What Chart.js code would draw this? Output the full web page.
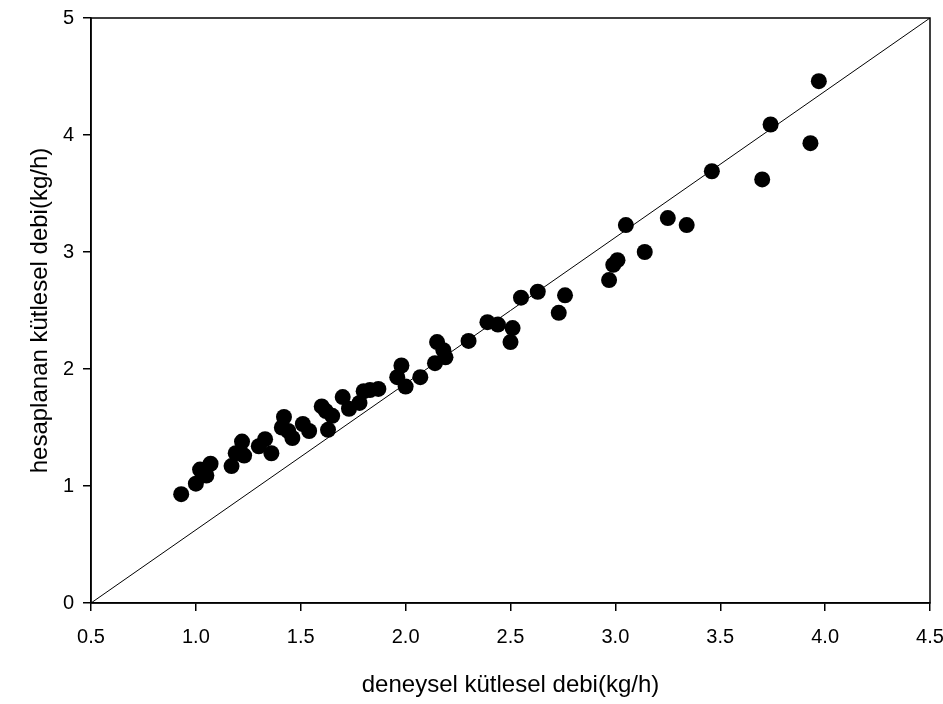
<!DOCTYPE html>
<html>
<head>
<meta charset="utf-8">
<script src="https://cdn.jsdelivr.net/npm/chart.js@4/dist/chart.umd.min.js"></script>
<style>
html,body{margin:0;padding:0;background:#fff;}
#wrap{width:943px;height:704px;}
</style>
</head>
<body>
<div id="wrap"><canvas id="c" width="943" height="704"></canvas></div>
<script>
const xValues = [0.93,1.00,1.02,1.05,1.07,1.17,1.19,1.22,1.23,1.30,1.33,1.36,1.41,1.42,1.44,1.46,1.51,1.54,1.60,1.62,1.63,1.65,1.70,1.73,1.78,1.80,1.83,1.87,1.96,1.98,2.00,2.07,2.14,2.15,2.18,2.19,2.30,2.39,2.44,2.51,2.50,2.55,2.63,2.73,2.76,2.97,2.99,3.01,3.05,3.14,3.25,3.34,3.46,3.70,3.74,3.93,3.97];
const yValues = [0.93,1.02,1.14,1.09,1.19,1.17,1.28,1.38,1.26,1.34,1.40,1.28,1.50,1.59,1.47,1.41,1.53,1.47,1.68,1.64,1.48,1.60,1.76,1.66,1.71,1.81,1.82,1.83,1.93,2.03,1.85,1.93,2.05,2.23,2.16,2.10,2.24,2.40,2.38,2.35,2.23,2.61,2.66,2.48,2.63,2.76,2.89,2.93,3.23,3.00,3.29,3.23,3.69,3.62,4.09,3.93,4.46];
const lineX = [0.5, 4.5];
const lineY = [0, 5];
const xTicks = [0.5,1.0,1.5,2.0,2.5,3.0,3.5,4.0,4.5];
const yTicks = [0,1,2,3,4,5];
const xTitle = 'deneysel kütlesel debi(kg/h)';
const yTitle = 'hesaplanan kütlesel debi(kg/h)';

const pts = xValues.map((x,i)=>({x:x,y:yValues[i]}));
const linePts = lineX.map((x,i)=>({x:x,y:lineY[i]}));

const frame = {
  id:'frame',
  afterDatasetsDraw(chart){
    const a = chart.chartArea, ctx = chart.ctx;
    ctx.save();
    ctx.strokeStyle='#000';
    ctx.lineWidth=1.5;
    ctx.strokeRect(a.left,a.top,a.right-a.left,a.bottom-a.top);
    ctx.restore();
  }
};

const fam = '"Liberation Sans", Arial, sans-serif';
const font = {family:fam, size:20};
new Chart(document.getElementById('c'),{
  type:'scatter',
  data:{datasets:[
    {data:pts, pointRadius:8, pointHoverRadius:8, backgroundColor:'#000', borderColor:'#000', borderWidth:0, showLine:false, order:1},
    {data:linePts, showLine:true, pointRadius:0, borderColor:'#000', borderWidth:1, fill:false, order:2}
  ]},
  options:{
    responsive:false, animation:false,
    layout:{padding:{top:18,right:13,left:0,bottom:0}},
    plugins:{legend:{display:false}, tooltip:{enabled:false}},
    scales:{
      x:{type:'linear', min:0.5, max:4.5,
        afterBuildTicks(s){ s.ticks = xTicks.map(v=>({value:v})); },
        afterFit(s){ s.height = 101; s.paddingLeft = 0; s.paddingRight = 0; },
        ticks:{color:'#000', font:font, padding:14, maxRotation:0, callback:v=>Number(v).toFixed(1)},
        grid:{drawOnChartArea:false, drawTicks:true, tickLength:8, color:'#000', lineWidth:1.5},
        border:{display:true, color:'#000', width:1.5},
        title:{display:true, text:xTitle, color:'#000', font:{family:fam, size:24}, padding:{top:4,bottom:4}}
      },
      y:{type:'linear', min:0, max:5,
        afterBuildTicks(s){ s.ticks = yTicks.map(v=>({value:v})); },
        afterFit(s){ s.width = 91; s.paddingTop = 0; s.paddingBottom = 0; },
        ticks:{color:'#000', font:font, padding:9},
        grid:{drawOnChartArea:false, drawTicks:true, tickLength:8, color:'#000', lineWidth:1.5},
        border:{display:true, color:'#000', width:1.5},
        title:{display:true, text:yTitle, color:'#000', font:{family:fam, size:24}, padding:{top:26,bottom:0}}
      }
    }
  },
  plugins:[frame]
});
</script>
</body>
</html>
